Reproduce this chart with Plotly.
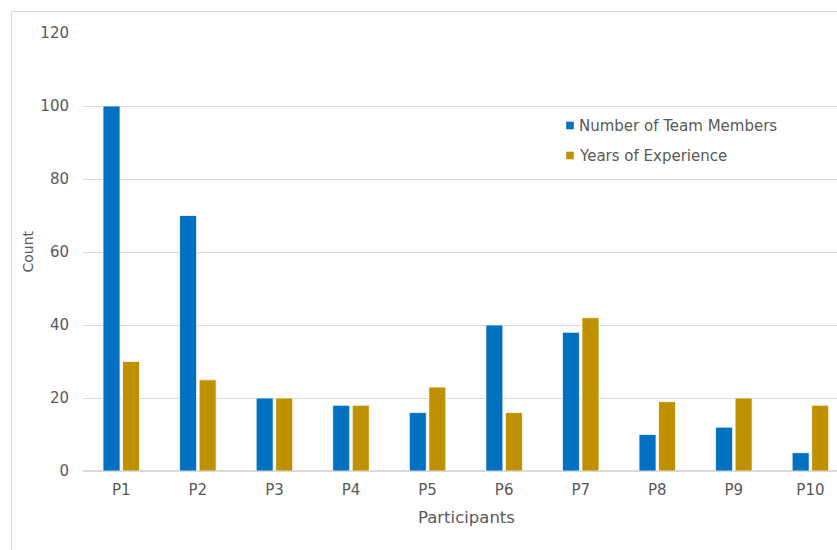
import plotly.graph_objects as go

participants = ["P1", "P2", "P3", "P4", "P5", "P6", "P7", "P8", "P9", "P10"]
team_members = [100, 70, 20, 18, 16, 40, 38, 10, 12, 5]
years_experience = [30, 25, 20, 18, 23, 16, 42, 19, 20, 18]
series_names = ["Number of Team Members", "Years of Experience"]
series_colors = ["#0070C0", "#BF9000"]
y_ticks = [0, 20, 40, 60, 80, 100, 120]

W, H = 837, 550
L, T, B = 83, 33, 79
PW = W - L
PH = H - T - B

def px_x(x):
    return (x - L) / PW

def px_y(y):
    return (H - B - y) / PH

FONT = "DejaVu Sans, Liberation Sans, Arial, sans-serif"
TXT = "#595959"
GRID = "#D9D9D9"

fig = go.Figure()
for name, vals, col in zip(series_names, [team_members, years_experience], series_colors):
    fig.add_trace(go.Bar(
        x=participants, y=vals, name=name, showlegend=False,
        marker=dict(color=col, line=dict(color="white", width=0.75)),
    ))

fig.update_layout(
    width=W, height=H,
    margin=dict(l=L, r=0, t=T, b=B),
    paper_bgcolor="white", plot_bgcolor="white",
    barmode="group", bargap=0.49, bargroupgap=0.13,
    font=dict(family=FONT, size=15, color=TXT),
    xaxis=dict(
        type="category", range=[-0.5, 9.347],
        showgrid=False, showline=False, zeroline=False,
        tickfont=dict(size=15, color=TXT), ticklabelstandoff=8,
    ),
    yaxis=dict(
        range=[0, 120], tickvals=y_ticks,
        showgrid=True, gridcolor=GRID, gridwidth=1,
        zeroline=True, zerolinecolor=GRID, zerolinewidth=1.5,
        showline=False,
        tickfont=dict(size=15, color=TXT), ticklabelstandoff=13,
    ),
)

shapes = [dict(
    type="rect", xref="paper", yref="paper",
    x0=px_x(11.5), x1=1.05, y0=-0.4, y1=px_y(11.5),
    line=dict(color=GRID, width=1), fillcolor="rgba(0,0,0,0)", layer="below",
)]
annotations = [
    dict(text="Participants", xref="paper", yref="paper", x=px_x(466), y=px_y(517),
         xanchor="center", yanchor="middle", showarrow=False, font=dict(size=16.5, color=TXT)),
    dict(text="Count", xref="paper", yref="paper", x=px_x(27.5), y=px_y(252),
         xanchor="center", yanchor="middle", textangle=-90, showarrow=False,
         font=dict(size=14, color=TXT)),
]
for i, (name, col) in enumerate(zip(series_names, series_colors)):
    yc = 125.5 + 30 * i
    shapes.append(dict(
        type="rect", xref="paper", yref="paper",
        xsizemode="pixel", ysizemode="pixel",
        xanchor=px_x(570), yanchor=px_y(yc),
        x0=-3.8, x1=3.8, y0=-3.8, y1=3.8,
        fillcolor=col, line=dict(width=0),
    ))
    annotations.append(dict(
        text=name, xref="paper", yref="paper", x=px_x(577), y=px_y(yc),
        xanchor="left", yanchor="middle", showarrow=False,
        font=dict(size=15, color=TXT),
    ))
fig.update_layout(shapes=shapes, annotations=annotations)

fig.write_html("out.html")
